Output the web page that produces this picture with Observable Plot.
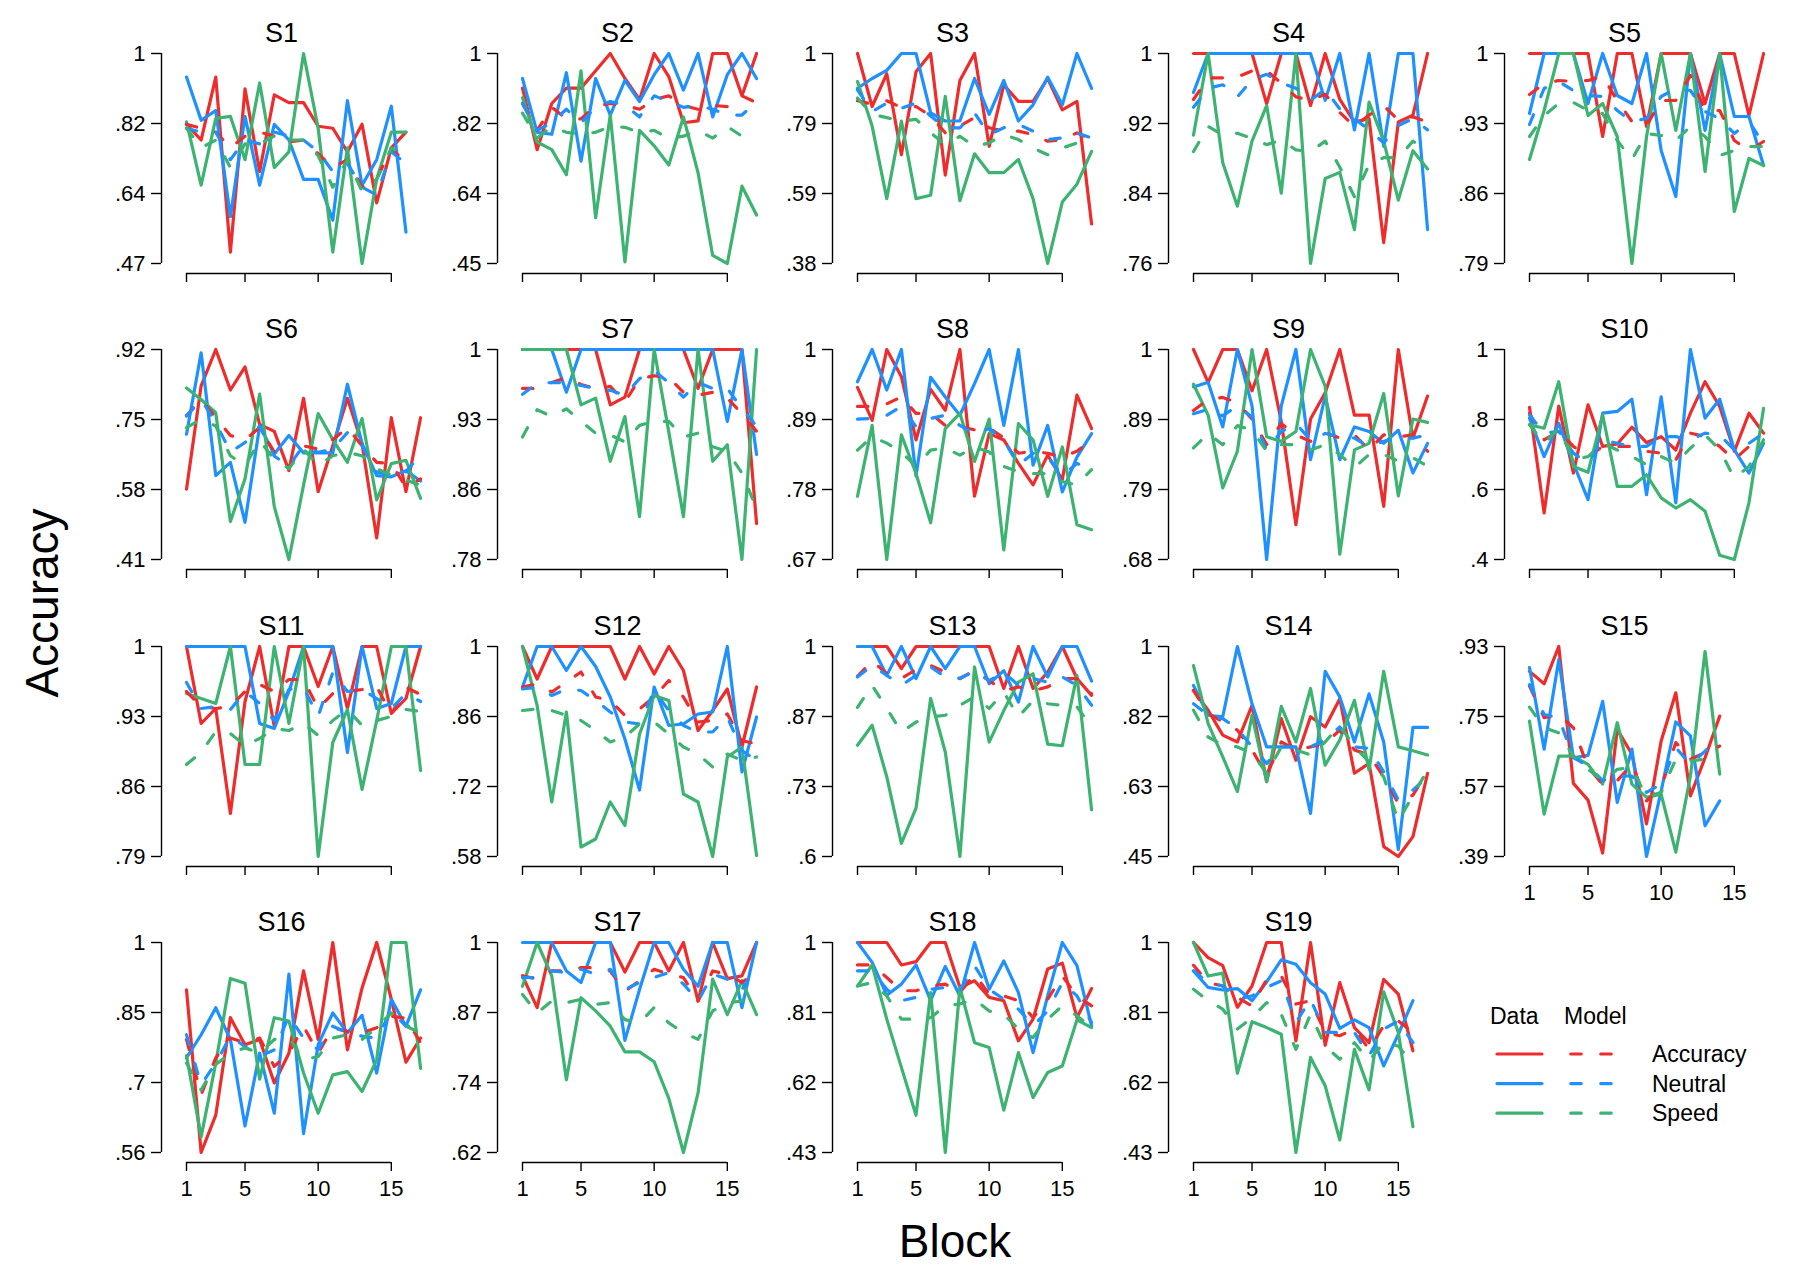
<!DOCTYPE html>
<html>
<head>
<meta charset="utf-8">
<script src="https://cdn.jsdelivr.net/npm/d3@7"></script>
<script src="https://cdn.jsdelivr.net/npm/@observablehq/plot@0.6"></script>
<style>
  body { margin: 0; background: #fff; }
  #chart { position: relative; width: 1800px; height: 1275px; font-family: "Liberation Sans", Arial, Helvetica, sans-serif; }
  .panel { position: absolute; }
</style>
</head>
<body>
<div id="chart"></div>
<script>
// Per-subject accuracy by block: observed data (solid) and model fits (dashed)
const subjects = ["S1","S2","S3","S4","S5","S6","S7","S8","S9","S10","S11","S12","S13","S14","S15","S16","S17","S18","S19"];
const conditions = ["Accuracy", "Neutral", "Speed"];
const xTicks = [1, 5, 10, 15];

// y-axis limits [low, high] for each subject
const yLimits = [
  [0.466, 1], [0.454, 1], [0.378, 1], [0.758, 1], [0.79, 1],
  [0.41, 0.918], [0.784, 1], [0.668, 1], [0.68, 1], [0.4, 1],
  [0.79, 1], [0.58, 1], [0.6, 1], [0.45, 1], [0.39, 0.93],
  [0.556, 1], [0.616, 1], [0.43, 1], [0.43, 1]
];
// y tick labels, bottom to top
const yTickLabels = [
  [".47",".64",".82","1"], [".45",".64",".82","1"], [".38",".59",".79","1"], [".76",".84",".92","1"], [".79",".86",".93","1"],
  [".41",".58",".75",".92"], [".78",".86",".93","1"], [".67",".78",".89","1"], [".68",".79",".89","1"], [".4",".6",".8","1"],
  [".79",".86",".93","1"], [".58",".72",".86","1"], [".6",".73",".87","1"], [".45",".63",".82","1"], [".39",".57",".75",".93"],
  [".56",".7",".85","1"], [".62",".74",".87","1"], [".43",".62",".81","1"], [".43",".62",".81","1"]
];

const accuracyData = [
  [0.82,0.78,0.94,0.495,0.91,0.70,0.895,0.875,0.875,0.815,0.81,0.75,0.82,0.62,0.76,0.80],
  [0.91,0.75,0.87,0.91,0.91,0.955,1,0.935,0.88,1,0.94,0.82,0.825,1,1,0.89,1],
  [1,0.843,0.94,0.70,0.946,1,0.64,0.92,1,0.725,0.907,0.858,0.858,0.926,0.833,0.858,0.495],
  [1,1,1,1,1,0.942,1,1,0.94,1,0.947,0.921,0.925,0.782,0.921,0.929,1],
  [1,1,1,1,1,0.917,1,1,0.927,1,1,1,0.95,1,1,0.938,1],
  [0.58,0.83,0.918,0.82,0.876,0.737,0.72,0.625,0.80,0.574,0.685,0.80,0.69,0.462,0.753,0.574,0.753],
  [1,1,1,1,1,1,0.943,0.951,1,1,1,1,0.96,1,1,1,0.821],
  [0.94,0.888,1,0.957,0.857,0.937,0.904,1,0.768,0.867,0.857,0.82,0.786,0.833,0.794,0.928,0.875],
  [1,0.95,1,1,0.937,1,0.89,0.733,0.894,0.934,1,0.9,0.9,0.761,1,0.865,0.929],
  [0.835,0.533,0.838,0.647,0.842,0.723,0.73,0.778,0.734,0.751,0.713,0.818,0.908,0.837,0.709,0.818,0.761],
  [1,0.923,0.938,0.833,0.945,1,0.92,1,1,0.96,1,0.938,1,1,0.933,0.948,1],
  [1,0.935,1,1,1,1,1,0.935,1,0.945,1,0.952,0.832,0.872,0.915,0.799,0.919],
  [1,1,1,0.958,1,1,1,1,1,1,0.92,1,0.92,0.951,1,0.939,0.907],
  [0.885,0.833,0.768,0.75,0.846,0.646,0.811,0.702,0.816,0.789,0.863,0.668,0.694,0.476,0.45,0.502,0.668],
  [0.866,0.834,0.93,0.578,0.535,0.399,0.717,0.653,0.474,0.687,0.811,0.546,0.644,0.751],
  [0.9,0.556,0.635,0.841,0.784,0.795,0.703,0.766,0.94,0.795,1,0.773,0.904,1,0.88,0.747,0.798],
  [0.939,0.881,1,1,1,1,1,0.946,1,1,0.948,1,0.893,1,0.934,0.939,1],
  [1,1,1,0.939,0.948,1,1,0.878,0.896,0.851,0.842,0.733,0.792,0.928,0.944,0.796,0.875],
  [1,0.959,0.937,0.824,0.882,1,1,0.733,1,0.721,0.891,0.769,0.728,0.9,0.86,0.706]
];

const neutralData = [
  [0.94,0.83,0.855,0.585,0.84,0.665,0.82,0.78,0.68,0.68,0.576,0.88,0.665,0.73,0.866,0.546],
  [0.935,0.795,0.79,0.95,0.72,0.935,0.84,0.93,0.875,0.945,1,0.905,1,0.835,0.945,1,0.935],
  [0.897,0.926,0.95,1,1,0.824,0.80,0.80,0.926,0.82,0.92,0.80,0.848,0.93,0.848,1,0.897],
  [0.955,1,1,1,1,1,1,1,1,0.946,1,0.912,1,0.893,1,1,0.797],
  [0.94,1,1,1,0.95,1,0.958,0.95,1,0.903,0.857,1,0.923,1,0.937,0.937,0.888],
  [0.713,0.91,0.613,0.645,0.50,0.733,0.665,0.71,0.668,0.668,0.668,0.834,0.69,0.613,0.61,0.625,0.60],
  [1,1,1,0.956,1,1,1,1,1,1,1,1,1,1,0.926,1,0.892],
  [0.949,1,0.936,1,0.80,0.956,0.925,0.896,0.946,1,0.88,1,0.817,0.88,0.775,0.83,0.867],
  [0.943,0.95,0.882,1,0.914,0.68,0.914,1,0.832,0.929,0.832,0.882,0.875,0.857,0.877,0.812,0.857],
  [0.804,0.694,0.789,0.675,0.571,0.818,0.823,0.858,0.585,0.865,0.562,1,0.804,0.858,0.713,0.647,0.732],
  [1,1,1,1,1,0.923,0.918,0.955,1,1,1,0.894,1,0.938,0.943,1,1],
  [0.919,1,1,0.952,1,0.96,0.899,0.815,0.713,0.919,0.842,0.845,0.865,0.869,1,0.749,0.859],
  [1,1,0.945,1,0.939,1,0.958,1,1,0.929,0.954,0.894,1,0.942,1,1,0.934],
  [0.898,0.82,0.816,1,0.85,0.737,0.737,0.737,0.563,0.935,0.868,0.75,0.876,0.75,0.468,0.788,0.788],
  [0.876,0.666,0.896,0.644,0.65,0.789,0.529,0.666,0.39,0.559,0.736,0.70,0.469,0.533],
  [0.756,0.805,0.862,0.795,0.612,0.766,0.639,0.933,0.596,0.784,0.851,0.809,0.846,0.724,0.88,0.823,0.9],
  [1,1,1,0.948,0.927,1,1,0.821,0.914,1,1,0.951,0.92,1,1,0.881,1],
  [1,0.946,0.857,0.887,0.939,0.842,0.935,0.855,1,0.873,0.95,0.864,0.701,0.855,1,0.937,0.774],
  [0.923,0.878,0.871,0.875,0.842,0.893,0.953,0.941,0.891,0.86,0.767,0.79,0.769,0.665,0.751,0.842]
];

const speedData = [
  [0.826,0.665,0.835,0.84,0.73,0.925,0.71,0.75,1.0,0.81,0.495,0.76,0.466,0.68,0.80,0.80],
  [0.885,0.77,0.75,0.685,0.955,0.573,0.84,0.458,0.80,0.76,0.71,0.835,0.69,0.475,0.454,0.655,0.58],
  [0.917,0.785,0.57,0.80,0.57,0.58,0.873,0.564,0.703,0.647,0.647,0.686,0.57,0.378,0.56,0.613,0.71],
  [0.906,1,0.874,0.824,0.899,0.94,0.839,1,0.758,0.856,0.863,0.797,0.944,0.899,0.831,0.888,0.867],
  [0.894,0.943,1,1,0.938,0.95,0.917,0.79,0.917,1,0.923,1,0.882,1,0.842,0.895,0.888],
  [0.825,0.797,0.765,0.502,0.605,0.81,0.538,0.41,0.59,0.763,0.70,0.645,0.751,0.554,0.642,0.65,0.558],
  [1,1,1,1,0.943,0.95,0.885,0.931,0.828,1,0.915,0.828,1,0.885,0.902,0.784,1],
  [0.768,0.88,0.668,0.865,0.804,0.726,0.875,0.899,0.823,0.89,0.683,0.883,0.857,0.768,0.846,0.723,0.715],
  [0.947,0.9,0.789,0.845,1,0.867,0.86,0.875,1,0.944,0.688,0.847,0.857,0.933,0.777,0.894,0.889],
  [0.785,0.775,0.908,0.666,0.649,0.813,0.609,0.609,0.642,0.576,0.547,0.571,0.538,0.412,0.4,0.562,0.832],
  [0.953,0.948,0.943,1,0.882,0.882,1,0.923,1,0.79,0.904,0.937,0.857,0.926,1,1,0.876],
  [1,0.882,0.689,0.869,0.599,0.615,0.689,0.642,0.825,0.902,0.892,0.705,0.689,0.58,0.779,0.799,0.582],
  [0.812,0.85,0.752,0.625,0.692,0.901,0.799,0.6,0.961,0.818,0.878,0.932,0.948,0.814,0.811,0.945,0.689],
  [0.95,0.798,0.711,0.62,0.82,0.646,0.843,0.75,0.89,0.689,0.755,0.859,0.676,0.935,0.737,0.727,0.716],
  [0.738,0.499,0.648,0.648,0.627,0.576,0.734,0.576,0.542,0.55,0.401,0.597,0.917,0.602],
  [0.761,0.589,0.745,0.924,0.914,0.711,0.841,0.834,0.724,0.639,0.72,0.727,0.685,0.752,1,1,0.734],
  [0.92,1,0.939,0.749,0.899,0.875,0.847,0.80,0.80,0.782,0.715,0.616,0.725,0.933,0.868,0.93,0.868],
  [0.882,0.939,0.792,0.661,0.531,0.864,0.43,0.878,0.728,0.715,0.545,0.701,0.579,0.647,0.665,0.79,0.769],
  [1,0.909,0.917,0.645,0.785,0.769,0.751,0.43,0.688,0.611,0.464,0.71,0.6,0.866,0.756,0.5]
];

const accuracyModel = [
  [0.82,0.81,0.80,0.76,0.79,0.80,0.79,0.775,0.78,0.745,0.71,0.73,0.66,0.68,0.76,0.72],
  [0.87,0.80,0.86,0.83,0.83,0.864,0.87,0.865,0.855,0.88,0.89,0.865,0.855,0.865,0.862,0.89,0.872],
  [0.86,0.85,0.86,0.84,0.843,0.815,0.765,0.785,0.81,0.78,0.77,0.77,0.76,0.74,0.745,0.765,0.745],
  [0.947,0.972,0.972,0.973,0.98,0.98,0.966,0.95,0.946,0.953,0.932,0.916,0.929,0.94,0.923,0.927,0.921],
  [0.959,0.97,0.973,0.972,0.973,0.977,0.953,0.932,0.928,0.953,0.953,0.978,0.943,0.943,0.913,0.903,0.912],
  [0.758,0.797,0.753,0.71,0.70,0.729,0.67,0.633,0.685,0.677,0.70,0.729,0.685,0.645,0.642,0.585,0.605],
  [0.96,0.96,0.966,0.971,0.964,0.96,0.962,0.946,0.97,0.973,0.971,0.956,0.953,0.956,0.95,0.934,0.916],
  [0.91,0.91,0.914,0.925,0.899,0.899,0.88,0.878,0.873,0.876,0.86,0.836,0.839,0.836,0.83,0.839,0.857],
  [0.907,0.924,0.927,0.919,0.894,0.855,0.887,0.87,0.86,0.873,0.865,0.87,0.847,0.87,0.867,0.87,0.845],
  [0.818,0.742,0.766,0.723,0.694,0.723,0.723,0.723,0.709,0.704,0.685,0.761,0.751,0.723,0.685,0.723,0.751],
  [0.955,0.94,0.938,0.94,0.955,0.962,0.955,0.967,0.967,0.938,0.953,0.955,0.957,0.96,0.932,0.959,0.952],
  [0.919,0.925,0.909,0.929,0.949,0.899,0.892,0.862,0.875,0.899,0.932,0.899,0.849,0.852,0.865,0.812,0.805],
  [0.943,0.973,0.948,0.939,0.956,0.964,0.951,0.939,0.954,0.935,0.916,0.923,0.916,0.923,0.939,0.939,0.91],
  [0.885,0.824,0.803,0.781,0.729,0.663,0.75,0.729,0.737,0.746,0.781,0.729,0.716,0.659,0.589,0.611,0.672],
  [0.828,0.747,0.755,0.721,0.619,0.576,0.585,0.627,0.533,0.567,0.683,0.64,0.657,0.674],
  [0.795,0.678,0.756,0.798,0.788,0.798,0.738,0.766,0.823,0.766,0.82,0.812,0.809,0.82,0.844,0.84,0.788],
  [0.939,0.933,0.948,0.948,0.954,0.954,0.948,0.911,0.93,0.951,0.942,0.936,0.893,0.948,0.942,0.927,0.946],
  [0.939,0.939,0.905,0.869,0.869,0.882,0.887,0.864,0.914,0.86,0.855,0.842,0.796,0.846,0.909,0.855,0.828],
  [0.938,0.891,0.882,0.851,0.828,0.9,0.909,0.833,0.842,0.756,0.747,0.765,0.71,0.774,0.787,0.756]
];

const neutralModel = [
  [0.81,0.80,0.80,0.73,0.78,0.77,0.80,0.79,0.78,0.75,0.70,0.72,0.66,0.64,0.75,0.72],
  [0.87,0.80,0.82,0.855,0.82,0.86,0.875,0.866,0.835,0.89,0.875,0.86,0.865,0.855,0.84,0.84,0.875],
  [0.892,0.828,0.853,0.838,0.853,0.815,0.78,0.78,0.824,0.76,0.78,0.79,0.77,0.745,0.75,0.765,0.75],
  [0.938,0.96,0.964,0.95,0.97,0.976,0.966,0.96,0.946,0.959,0.936,0.925,0.912,0.897,0.917,0.925,0.912],
  [0.929,0.965,0.972,0.963,0.958,0.957,0.943,0.932,0.935,0.957,0.965,0.963,0.942,0.935,0.92,0.932,0.91],
  [0.757,0.797,0.741,0.67,0.693,0.733,0.66,0.637,0.685,0.669,0.677,0.717,0.685,0.622,0.614,0.622,0.665],
  [0.954,0.965,0.966,0.966,0.963,0.96,0.958,0.953,0.97,0.978,0.966,0.951,0.966,0.96,0.96,0.939,0.921],
  [0.89,0.891,0.896,0.91,0.878,0.891,0.896,0.88,0.867,0.875,0.857,0.817,0.836,0.83,0.80,0.82,0.81],
  [0.902,0.909,0.899,0.914,0.897,0.847,0.875,0.887,0.862,0.872,0.867,0.865,0.852,0.86,0.865,0.865,0.87],
  [0.813,0.761,0.766,0.704,0.675,0.742,0.732,0.723,0.723,0.751,0.751,0.742,0.761,0.756,0.713,0.732,0.761],
  [0.964,0.938,0.94,0.937,0.955,0.943,0.926,0.957,0.959,0.93,0.974,0.955,0.957,0.948,0.938,0.953,0.945],
  [0.915,0.919,0.902,0.915,0.912,0.892,0.869,0.849,0.845,0.912,0.872,0.842,0.829,0.829,0.859,0.792,0.772],
  [0.942,0.964,0.945,0.926,0.945,0.961,0.942,0.939,0.954,0.935,0.951,0.926,0.939,0.932,0.942,0.926,0.888],
  [0.85,0.82,0.811,0.785,0.737,0.694,0.737,0.737,0.737,0.755,0.789,0.737,0.733,0.672,0.598,0.624,0.659],
  [0.832,0.755,0.747,0.644,0.623,0.585,0.597,0.597,0.555,0.576,0.67,0.627,0.661,0.698],
  [0.805,0.699,0.745,0.802,0.78,0.759,0.773,0.844,0.798,0.773,0.823,0.809,0.802,0.798,0.855,0.823,0.823],
  [0.936,0.936,0.948,0.945,0.951,0.942,0.951,0.914,0.927,0.936,0.945,0.924,0.893,0.942,0.933,0.914,0.958],
  [0.923,0.923,0.873,0.842,0.851,0.873,0.878,0.869,0.937,0.873,0.846,0.819,0.774,0.814,0.891,0.855,0.783],
  [0.923,0.891,0.882,0.846,0.855,0.878,0.896,0.783,0.846,0.756,0.756,0.756,0.692,0.765,0.787,0.728]
];

const speedModel = [
  [0.81,0.76,0.78,0.71,0.77,0.77,0.79,0.78,0.78,0.74,0.66,0.73,0.65,0.68,0.76,0.74],
  [0.845,0.78,0.81,0.795,0.79,0.795,0.81,0.808,0.795,0.80,0.78,0.785,0.80,0.78,0.81,0.785,0.785],
  [0.868,0.82,0.81,0.80,0.805,0.765,0.73,0.755,0.725,0.735,0.76,0.745,0.72,0.70,0.72,0.735,0.715],
  [0.887,0.916,0.906,0.908,0.902,0.895,0.90,0.889,0.887,0.899,0.869,0.835,0.872,0.88,0.88,0.899,0.887],
  [0.917,0.938,0.95,0.951,0.943,0.94,0.913,0.894,0.92,0.918,0.913,0.927,0.917,0.898,0.903,0.907,0.907],
  [0.729,0.749,0.733,0.661,0.637,0.697,0.653,0.63,0.677,0.637,0.661,0.669,0.661,0.63,0.614,0.602,0.59],
  [0.91,0.938,0.931,0.939,0.926,0.914,0.912,0.905,0.922,0.926,0.926,0.91,0.914,0.9,0.895,0.873,0.836],
  [0.841,0.862,0.852,0.838,0.815,0.841,0.844,0.833,0.846,0.838,0.815,0.807,0.804,0.804,0.791,0.786,0.81],
  [0.85,0.872,0.855,0.884,0.877,0.845,0.855,0.855,0.847,0.855,0.84,0.82,0.84,0.84,0.83,0.835,0.822],
  [0.785,0.732,0.775,0.685,0.694,0.732,0.713,0.694,0.671,0.694,0.675,0.718,0.756,0.713,0.633,0.666,0.742],
  [0.882,0.894,0.915,0.913,0.901,0.908,0.918,0.916,0.923,0.911,0.926,0.937,0.921,0.926,0.93,0.937,0.935],
  [0.872,0.875,0.872,0.862,0.852,0.832,0.809,0.819,0.845,0.849,0.825,0.799,0.785,0.759,0.785,0.772,0.779],
  [0.884,0.926,0.882,0.837,0.856,0.866,0.869,0.888,0.904,0.882,0.913,0.866,0.897,0.891,0.888,0.885,0.847],
  [0.833,0.763,0.742,0.737,0.72,0.668,0.737,0.729,0.716,0.75,0.794,0.737,0.698,0.659,0.542,0.611,0.676],
  [0.774,0.721,0.708,0.648,0.614,0.585,0.614,0.619,0.542,0.555,0.64,0.636,0.64,0.631],
  [0.745,0.688,0.742,0.766,0.777,0.766,0.795,0.798,0.752,0.759,0.798,0.805,0.795,0.82,0.851,0.823,0.809],
  [0.905,0.871,0.893,0.89,0.896,0.887,0.89,0.859,0.853,0.881,0.853,0.835,0.823,0.875,0.89,0.893,0.905],
  [0.882,0.891,0.855,0.792,0.792,0.796,0.828,0.833,0.846,0.814,0.805,0.765,0.742,0.792,0.828,0.801,0.769],
  [0.873,0.842,0.819,0.765,0.796,0.837,0.805,0.71,0.805,0.719,0.683,0.728,0.679,0.728,0.719,0.67]
];

const colors = { Accuracy: "#EE2C2C", Neutral: "#1E90FF", Speed: "#3CB371" };
const FONT = '"Liberation Sans", Arial, Helvetica, sans-serif';
const LINE_W = 3.2;
const DASH = "10.5,19.5";

// Grid geometry (pixels)
const UNIT = 14.63;            // width of one block
const COL0 = 185.7, COL_STEP = 335.8;   // x of block 1 in first column
const ROW0 = 53.3, ROW_STEP = 296.1;    // y of the top tick in first row
const SPAN = 210;              // height between lowest and highest y tick
const AXIS_GAP = 25;           // y-axis line sits left of block 1
const W = 330, H = 310, ML = 55, MT = 45;

const chart = document.getElementById("chart");

function toRows(values, cond) {
  return values.map((v, i) => ({ block: i + 1, acc: v, cond }));
}

subjects.forEach((name, k) => {
  const col = k % 5, row = Math.floor(k / 5);
  const [lo, hi] = yLimits[k];
  const ticks = d3.range(4).map(j => lo + j * (hi - lo) / 3);
  const labels = yTickLabels[k];
  const showXLabels = k >= 14;

  const dataSeries = [
    toRows(accuracyData[k], "Accuracy"),
    toRows(neutralData[k], "Neutral"),
    toRows(speedData[k], "Speed")
  ];
  const modelSeries = [
    toRows(accuracyModel[k], "Accuracy"),
    toRows(neutralModel[k], "Neutral"),
    toRows(speedModel[k], "Speed")
  ];

  const marks = [
    // detached axis lines
    Plot.ruleX([{ x: 1, y1: lo, y2: hi }], { x: "x", y1: "y1", y2: "y2", dx: -AXIS_GAP, stroke: "#000", strokeWidth: 1.4 }),
    Plot.ruleY([{ y: lo, x1: xTicks[0], x2: xTicks[xTicks.length - 1] }], { y: "y", x1: "x1", x2: "x2", dy: 10, stroke: "#000", strokeWidth: 1.4 }),
    Plot.axisY({ ticks, tickSize: 10, tickPadding: 6, tickFormat: d => labels[ticks.indexOf(d)], fontSize: 22, strokeWidth: 1.4, label: null }),
    Plot.axisX({ ticks: xTicks, tickSize: 9, tickPadding: 9, tickFormat: showXLabels ? (d => String(d)) : (() => ""), fontSize: 22, strokeWidth: 1.4, label: null }),
    ...dataSeries.map(s => Plot.line(s, {
      x: "block", y: "acc", stroke: colors[s[0].cond], strokeWidth: LINE_W,
      strokeLinejoin: "round", strokeLinecap: "round"
    })),
    ...modelSeries.map(s => Plot.line(s, {
      x: "block", y: "acc", stroke: colors[s[0].cond], strokeWidth: LINE_W,
      strokeDasharray: DASH, strokeLinejoin: "round", strokeLinecap: "round"
    })),
    Plot.text([name], { text: d => d, frameAnchor: "top", lineAnchor: "bottom", dy: -12, fontSize: 27, fill: "#000" })
  ];

  const svg = Plot.plot({
    width: W, height: H,
    marginLeft: ML, marginRight: W - (2 * (ML + AXIS_GAP + 95) - ML),
    marginTop: MT, marginBottom: H - (MT + SPAN + 10),
    x: { domain: [1, 17], range: [ML + AXIS_GAP, ML + AXIS_GAP + 16 * UNIT], label: null },
    y: { domain: [lo, hi], range: [MT + SPAN, MT], label: null },
    style: { fontFamily: FONT, color: "#000", background: "transparent", overflow: "visible" },
    marks
  });

  const div = document.createElement("div");
  div.className = "panel";
  div.style.left = (COL0 + col * COL_STEP - (ML + AXIS_GAP)) + "px";
  div.style.top = (ROW0 + row * ROW_STEP - MT) + "px";
  div.appendChild(svg);
  chart.appendChild(div);
});

// Shared axis titles and legend
const overlay = d3.select(chart).append("svg")
  .attr("width", 1800).attr("height", 1275)
  .style("position", "absolute").style("left", 0).style("top", 0)
  .style("pointer-events", "none")
  .style("font-family", FONT);

overlay.append("text")
  .attr("x", 955).attr("y", 1257)
  .attr("text-anchor", "middle").attr("font-size", 46)
  .text("Block");

overlay.append("text")
  .attr("transform", "translate(58,603) rotate(-90)")
  .attr("text-anchor", "middle").attr("font-size", 46)
  .text("Accuracy");

const legend = overlay.append("g");
legend.append("text").attr("x", 1490).attr("y", 1024).attr("font-size", 23).text("Data");
legend.append("text").attr("x", 1564).attr("y", 1024).attr("font-size", 23).text("Model");
conditions.forEach((cond, i) => {
  const y = 1054 + i * 29.6;
  legend.append("line")
    .attr("x1", 1497).attr("x2", 1542).attr("y1", y).attr("y2", y)
    .attr("stroke", colors[cond]).attr("stroke-width", LINE_W).attr("stroke-linecap", "round");
  legend.append("line")
    .attr("x1", 1570.75).attr("x2", 1611.25).attr("y1", y).attr("y2", y)
    .attr("stroke", colors[cond]).attr("stroke-width", LINE_W).attr("stroke-linecap", "round")
    .attr("stroke-dasharray", DASH);
  legend.append("text")
    .attr("x", 1652).attr("y", y).attr("dy", "0.35em")
    .attr("font-size", 23).text(cond);
});
</script>
</body>
</html>
